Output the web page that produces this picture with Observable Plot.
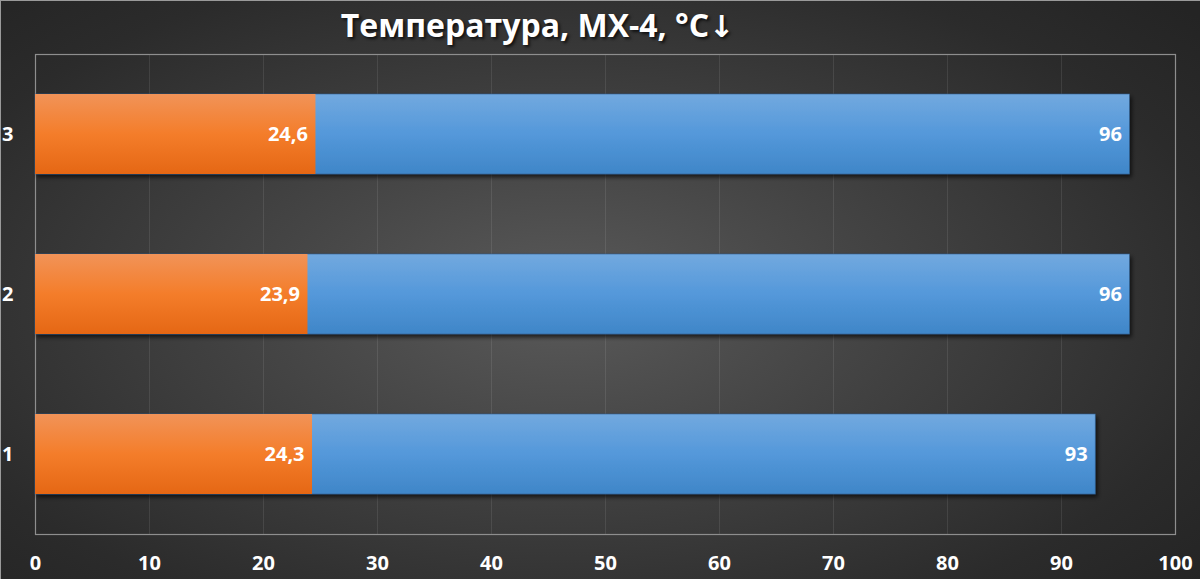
<!DOCTYPE html>
<html>
<head>
<meta charset="utf-8">
<script src="https://cdn.jsdelivr.net/npm/d3@7"></script>
<script src="https://cdn.jsdelivr.net/npm/@observablehq/plot@0.6"></script>
<style>
  html, body { margin: 0; padding: 0; background: #2a2a2a; }
  #wrap {
    width: 1200px; height: 579px; overflow: hidden; position: relative;
    background: radial-gradient(ellipse 70% 75% at 47% 52%, #5a5a5a 0%, #454545 35%, #2b2b2b 80%, #242424 100%);
    box-shadow: inset 1px 1px 0 #9a9a9a;
    font-family: "Open Sans", sans-serif;
  }
  #title {
    width: 1075px; height: 44px; line-height: 50px; text-align: center;
    color: #fff; font-weight: 700; font-size: 32px; white-space: nowrap;
    text-shadow: 2px 2px 3px rgba(0,0,0,0.7);
  }
  #title .arr { font-family: "DejaVu Sans", sans-serif; font-size: 30px; }
  svg { display: block; }
</style>
</head>
<body>
<div id="wrap">
  <div id="title">Температура, MX-4, °C<span class="arr">↓</span></div>
  <div id="chart"></div>
</div>
<script>
const categories = ["1", "2", "3"];
const maxTemps = [93, 96, 96];
const idleTemps = [24.3, 23.9, 24.6];
const xTicks = [0, 10, 20, 30, 40, 50, 60, 70, 80, 90, 100];

const rows = categories.map((c, i) => ({cat: c, max: maxTemps[i], idle: idleTemps[i]}));
const fmt = v => String(v).replace(".", ",");

const plot = Plot.plot({
  width: 1200,
  height: 535,
  marginLeft: 35,
  marginRight: 25,
  marginTop: 10,
  marginBottom: 45,
  style: {background: "transparent", color: "#fff", fontFamily: "'Open Sans', sans-serif"},
  x: {domain: [0, 100], label: null},
  y: {domain: ["3", "2", "1"], paddingInner: 0.5, paddingOuter: 0.25, label: null},
  marks: [
    Plot.gridX(xTicks.filter(d => d > 0 && d < 100), {stroke: "#ffffff", strokeOpacity: 0.09, strokeWidth: 1}),
    Plot.frame({stroke: "#8e8e8e", strokeWidth: 1.2}),
    Plot.barX(rows, {y: "cat", x1: 0, x2: "max", fill: "url(#gradBlue)", stroke: "#2f5f90", strokeWidth: 0.6, inset: 0}),
    Plot.barX(rows, {y: "cat", x1: 0, x2: "idle", fill: "url(#gradOrange)", inset: 0}),
    Plot.text(rows, {y: "cat", x: "max", text: d => fmt(d.max), textAnchor: "end", dx: -8, fill: "#fff", fontSize: 20, fontWeight: 700}),
    Plot.text(rows, {y: "cat", x: "idle", text: d => fmt(d.idle), textAnchor: "end", dx: -8, fill: "#fff", fontSize: 20, fontWeight: 700}),
    Plot.axisX(xTicks, {tickSize: 0, tickPadding: 21, fontSize: 20, fontWeight: 700, fill: "#fff", tickFormat: d => String(d), label: null}),
    Plot.axisY({tickSize: 0, tickPadding: 22, fontSize: 20, fontWeight: 700, fill: "#fff", label: null})
  ]
});

const svg = d3.select(plot);
const defs = svg.insert("defs", ":first-child");
const gb = defs.append("linearGradient").attr("id", "gradBlue").attr("x1", 0).attr("y1", 0).attr("x2", 0).attr("y2", 1);
gb.append("stop").attr("offset", "0%").attr("stop-color", "#72a9df");
gb.append("stop").attr("offset", "50%").attr("stop-color", "#5498da");
gb.append("stop").attr("offset", "100%").attr("stop-color", "#3f86c8");
const go = defs.append("linearGradient").attr("id", "gradOrange").attr("x1", 0).attr("y1", 0).attr("x2", 0).attr("y2", 1);
go.append("stop").attr("offset", "0%").attr("stop-color", "#f19358");
go.append("stop").attr("offset", "50%").attr("stop-color", "#f47d2a");
go.append("stop").attr("offset", "100%").attr("stop-color", "#e56714");
const f = defs.append("filter").attr("id", "shadow").attr("x", "-5%").attr("y", "-20%").attr("width", "115%").attr("height", "150%");
f.append("feDropShadow").attr("dx", 2).attr("dy", 3).attr("stdDeviation", 2).attr("flood-color", "#000").attr("flood-opacity", 0.65);

const barGroups = svg.selectAll("g[aria-label='bar']").nodes();
if (barGroups.length) d3.select(barGroups[0]).attr("filter", "url(#shadow)");

document.getElementById("chart").appendChild(plot);
</script>
</body>
</html>
